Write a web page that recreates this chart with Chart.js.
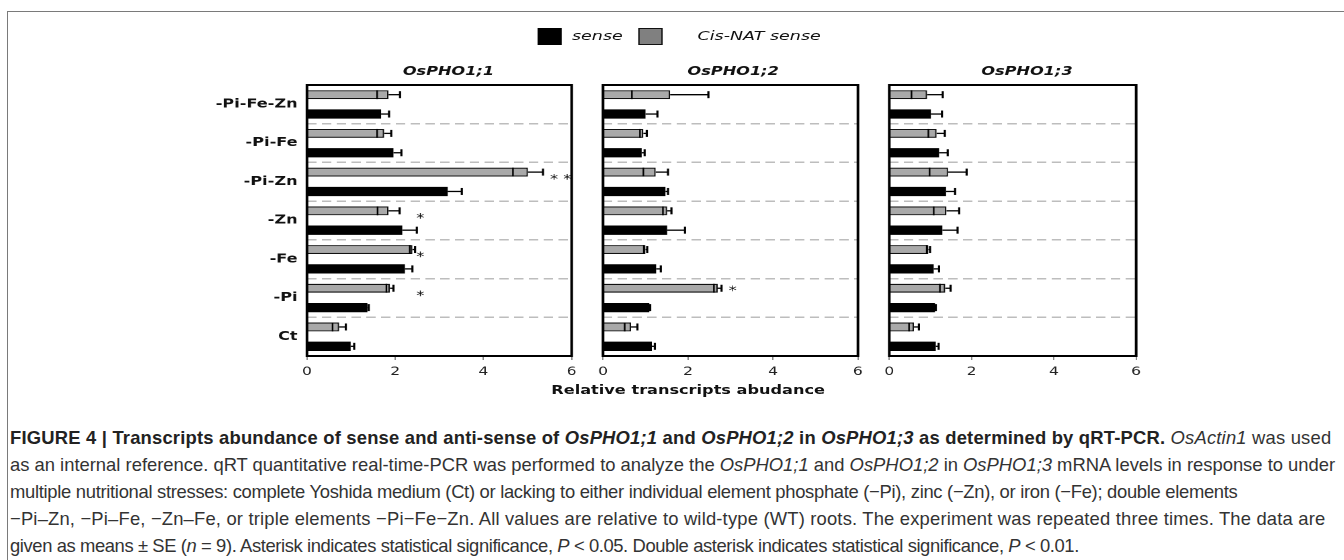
<!DOCTYPE html>
<html>
<head>
<meta charset="utf-8">
<script src="https://cdn.jsdelivr.net/npm/chart.js@4.4.1/dist/chart.umd.min.js"></script>
<style>
  body { margin: 0; width: 1344px; height: 560px; overflow: hidden; background: #fff; position: relative; font-family: 'Liberation Sans', Arial, sans-serif; }
  #frame { position: absolute; left: 7px; top: 11px; width: 1400px; height: 600px; border-left: 1.5px solid #7a7a7a; border-top: 1.5px solid #7a7a7a; }
  /* the figure in the reference is stretched sideways, so it is laid out 1000px wide and scaled */
  #fig { position: absolute; left: 0; top: 0; width: 1000px; height: 410px; transform: scaleX(1.344); transform-origin: 0 0; }
  #fig canvas { position: absolute; }
  .lg-box { position: absolute; top: 28px; width: 18px; height: 17px; box-sizing: border-box; }
  .lg-txt { position: absolute; top: 28px; line-height: 17px; font: italic 13px 'DejaVu Sans'; color: #111; }
  #xtitle { position: absolute; top: 382px; left: 312px; width: 400px; text-align: center; font: bold 12px 'DejaVu Sans'; line-height: 16px; color: #111; }
  #caption { position: absolute; left: 10px; top: 424px; font-size: 18.4px; line-height: 27px; color: #333; white-space: nowrap; }
  #caption b { color: #222; }
</style>
</head>
<body>
<div id="frame"></div>
<div id="fig">
  <div class="lg-box" style="left:400px; background:#000;"></div>
  <div class="lg-txt" style="left:425.6px;">sense</div>
  <div class="lg-box" style="left:474.7px; background:#808080; border:1.5px solid #111;"></div>
  <div class="lg-txt" style="left:519px;">Cis-NAT sense</div>
  <canvas id="p1"></canvas>
  <canvas id="p2"></canvas>
  <canvas id="p3"></canvas>
  <div id="xtitle">Relative transcripts abudance</div>
</div>
<div id="caption">
  <div style="letter-spacing:0.2px;"><b>FIGURE 4 | Transcripts abundance of sense and anti-sense of <i>OsPHO1;1</i> and <i>OsPHO1;2</i> in <i>OsPHO1;3</i> as determined by qRT-PCR.</b> <i>OsActin1</i> was used</div>
  <div>as an internal reference. qRT quantitative real-time-PCR was performed to analyze the <i>OsPHO1;1</i> and <i>OsPHO1;2</i> in <i>OsPHO1;3</i> mRNA levels in response to under</div>
  <div style="letter-spacing:-0.3px;">multiple nutritional stresses: complete Yoshida medium (Ct) or lacking to either individual element phosphate (−Pi), zinc (−Zn), or iron (−Fe); double elements</div>
  <div style="letter-spacing:0.18px;">−Pi–Zn, −Pi–Fe, −Zn–Fe, or triple elements −Pi−Fe−Zn. All values are relative to wild-type (WT) roots. The experiment was repeated three times. The data are</div>
  <div style="letter-spacing:-0.4px;">given as means ± SE (<i>n</i> = 9). Asterisk indicates statistical significance, <i>P</i> &lt; 0.05. Double asterisk indicates statistical significance, <i>P</i> &lt; 0.01.</div>
</div>
<script>
// ============================= data (top to bottom)

const categories = ['-Pi-Fe-Zn', '-Pi-Fe', '-Pi-Zn', '-Zn', '-Fe', '-Pi', 'Ct']

const p1Sense    = [1.68, 1.96, 3.19, 2.16, 2.22, 1.37, 0.99]
const p1SenseErr = [0.18, 0.18, 0.32, 0.33, 0.17, 0.03, 0.08]
const p1Nat      = [1.85, 1.75, 5.01, 1.85, 2.39, 1.88, 0.73]
const p1NatErr   = [0.26, 0.16, 0.34, 0.25, 0.06, 0.08, 0.15]
const p1Stars    = ['', '', '* *', '*', '*', '*', '']
const p1StarAt   = [0, 0, 5.75, 2.57, 2.57, 2.57, 0]

const p2Sense    = [1.00, 0.91, 1.47, 1.51, 1.25, 1.09, 1.15]
const p2SenseErr = [0.28, 0.07, 0.06, 0.42, 0.11, 0.02, 0.07]
const p2Nat      = [1.58, 0.95, 1.24, 1.51, 1.00, 2.70, 0.66]
const p2NatErr   = [0.90, 0.08, 0.29, 0.10, 0.04, 0.09, 0.15]
const p2Stars    = ['', '', '', '', '', '*', '']
const p2StarAt   = [0, 0, 0, 0, 0, 3.05, 0]

const p3Sense    = [1.01, 1.21, 1.38, 1.29, 1.08, 1.11, 1.13]
const p3SenseErr = [0.27, 0.21, 0.22, 0.37, 0.13, 0.02, 0.07]
const p3Nat      = [0.92, 1.15, 1.43, 1.39, 0.95, 1.36, 0.60]
const p3NatErr   = [0.38, 0.20, 0.45, 0.31, 0.04, 0.13, 0.12]

const xTicks = [0, 2, 4, 6]

const CANVAS_TOP = 40

Chart.defaults.font.family = "'DejaVu Sans'"

// ============================= error bars, stars, frame and panel title

const panelDeco = {
    id: 'panelDeco',
    afterDatasetsDraw: (chart, args, o) => {
        const ctx = chart.ctx, xs = chart.scales.x
        ctx.save()
        ctx.strokeStyle = '#000'
        chart.data.datasets.forEach((ds, i) => {
            chart.getDatasetMeta(i).data.forEach((bar, j) => {
                const v = ds.data[j], e = ds.err[j]
                const x0 = xs.getPixelForValue(v), x1 = xs.getPixelForValue(v + e), xl = xs.getPixelForValue(v - e)
                ctx.lineWidth = 1.3
                ctx.beginPath(); ctx.moveTo(x0, bar.y); ctx.lineTo(x1, bar.y); ctx.stroke()
                ctx.lineWidth = 1.6
                ctx.beginPath(); ctx.moveTo(x1, bar.y - 3.5); ctx.lineTo(x1, bar.y + 3.5); ctx.stroke()
                if (i === 0) { // lower half of the error shows inside the grey bar
                    ctx.lineWidth = 1.2
                    ctx.beginPath(); ctx.moveTo(xl, bar.y - bar.height / 2); ctx.lineTo(xl, bar.y + bar.height / 2); ctx.stroke()
                }
            })
        })
        const grey = chart.getDatasetMeta(0).data
        ctx.fillStyle = '#111'
        ctx.font = "12px 'DejaVu Sans'"
        ctx.textAlign = 'center'
        ctx.textBaseline = 'middle'
        o.stars.forEach((s, j) => {
            if (s) ctx.fillText(s, xs.getPixelForValue(o.starAt[j]), grey[j].y + o.starDy)
        })
        ctx.restore()
    },
    afterDraw: (chart, args, o) => {
        const ctx = chart.ctx, a = chart.chartArea
        ctx.save()
        ctx.strokeStyle = '#000'
        ctx.lineWidth = 2
        ctx.strokeRect(a.left, a.top, a.right - a.left, a.bottom - a.top)
        ctx.fillStyle = '#111'
        ctx.font = "italic bold 12px 'DejaVu Sans'"
        ctx.textAlign = 'center'
        ctx.textBaseline = 'middle'
        ctx.fillText(o.title, (a.left + a.right) / 2 + o.titleDx, 72 - CANVAS_TOP)
        ctx.restore()
    }
}

// ============================= creates one panel

const createPanel = ({ id, left, width, yWidth, padLeft, showLabels, title, titleDx, sense, senseErr, nat, natErr, stars, starAt, starDy }) => {
    const canvas = document.getElementById(id)
    canvas.width = width
    canvas.height = 346
    canvas.style.left = left + 'px'
    canvas.style.top = CANVAS_TOP + 'px'

    return new Chart(canvas, {
        type: 'bar',
        data: {
            labels: categories,
            datasets: [
                { label: 'Cis-NAT sense', data: nat, err: natErr, backgroundColor: '#a9a9a9', borderColor: '#111', borderWidth: 1.2, barPercentage: 0.46, categoryPercentage: 1 },
                { label: 'sense', data: sense, err: senseErr, backgroundColor: '#000', borderWidth: 0, barPercentage: 0.48, categoryPercentage: 1 }
            ]
        },
        options: {
            indexAxis: 'y',
            responsive: false,
            animation: false,
            devicePixelRatio: 2,
            layout: { padding: { left: padLeft, right: 6, top: 85 - CANVAS_TOP, bottom: 0 } },
            plugins: {
                legend: { display: false },
                tooltip: { enabled: false },
                panelDeco: { title: title, titleDx: titleDx, stars: stars || [], starAt: starAt || [], starDy: starDy || 0 }
            },
            scales: {
                x: {
                    min: 0, max: 6,
                    afterBuildTicks: (s) => { s.ticks = xTicks.map(v => ({ value: v })) },
                    ticks: { color: '#222', font: { size: 11.5 }, padding: 5 },
                    grid: { drawOnChartArea: false, drawTicks: true, tickLength: 4, color: '#888' },
                    border: { display: false },
                    afterFit: (s) => { s.height = 30 }
                },
                y: {
                    ticks: { display: showLabels, color: '#111', font: { size: 12, weight: 'bold' }, padding: 7 },
                    grid: { offset: true, color: '#bdbdbd', lineWidth: 1.5, drawTicks: false },
                    border: { display: false, dash: [7, 4] },
                    afterFit: (s) => { s.width = yWidth }
                }
            }
        },
        plugins: [panelDeco]
    })
}

createPanel({ id: 'p1', left: 128, width: 306.6, yWidth: 100.4, padLeft: 0, showLabels: true, title: 'OsPHO1;1', titleDx: 6.8,
    sense: p1Sense, senseErr: p1SenseErr, nat: p1Nat, natErr: p1NatErr, stars: p1Stars, starAt: p1StarAt, starDy: 8 })

createPanel({ id: 'p2', left: 440.2, width: 207.9, yWidth: 0, padLeft: 4, showLabels: false, title: 'OsPHO1;2', titleDx: 2,
    sense: p2Sense, senseErr: p2SenseErr, nat: p2Nat, natErr: p2NatErr, stars: p2Stars, starAt: p2StarAt, starDy: 3 })

createPanel({ id: 'p3', left: 653.2, width: 201, yWidth: 0, padLeft: 4, showLabels: false, title: 'OsPHO1;3', titleDx: 10.6,
    sense: p3Sense, senseErr: p3SenseErr, nat: p3Nat, natErr: p3NatErr })
</script>
</body>
</html>
